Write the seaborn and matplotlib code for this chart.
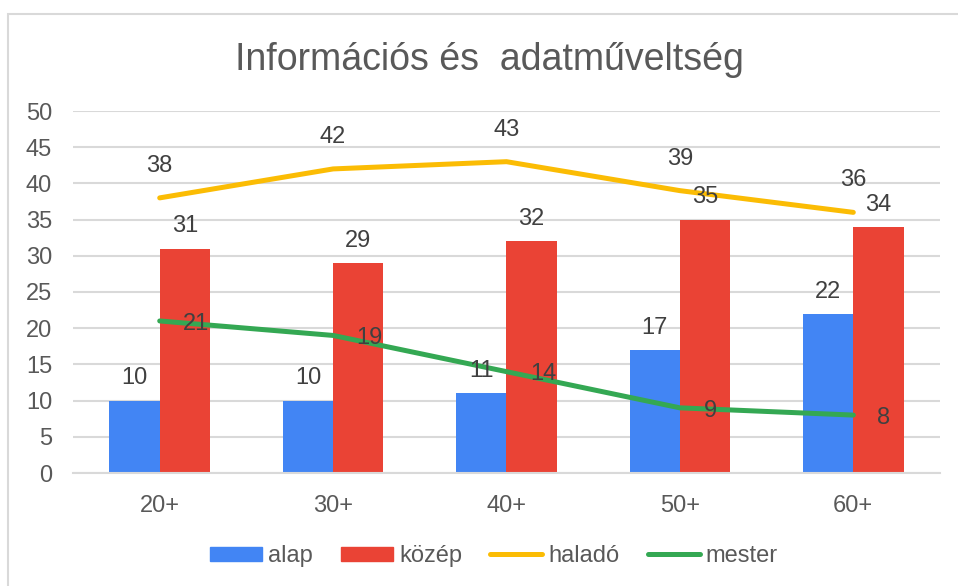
import numpy as np
import pandas as pd
import matplotlib
matplotlib.use("Agg")
import matplotlib.pyplot as plt
import matplotlib.patches as mpatches
from matplotlib.lines import Line2D
import seaborn as sns

# Data
categories = ["20+", "30+", "40+", "50+", "60+"]
alap = [10, 10, 11, 17, 22]
kozep = [31, 29, 32, 35, 34]
halado = [38, 42, 43, 39, 36]
mester = [21, 19, 14, 9, 8]
y_ticks = [0, 5, 10, 15, 20, 25, 30, 35, 40, 45, 50]
title = "Információs és  adatműveltség"

COLORS = {"alap": "#4285F4", "közép": "#EA4335", "haladó": "#FBBC04", "mester": "#34A853"}
TEXT = "#595959"
LABEL = "#404040"
GRID = "#D9D9D9"
FS = 17

sns.set_theme(style="white")
plt.rcParams["font.family"] = ["Liberation Sans", "DejaVu Sans"]

bars = pd.DataFrame({
    "kor": categories * 2,
    "szint": ["alap"] * len(categories) + ["közép"] * len(categories),
    "ertek": alap + kozep,
})

fig = plt.figure(figsize=(9.58, 5.86), dpi=100)
ax = fig.add_axes([73 / 958, 1 - 473 / 586, (940 - 73) / 958, (473 - 111) / 586])

sns.barplot(data=bars, x="kor", y="ertek", hue="szint", order=categories,
            hue_order=["alap", "közép"], palette=COLORS, width=0.58,
            saturation=1, errorbar=None, legend=False, linewidth=0, ax=ax)

for cont in ax.containers:
    ax.bar_label(cont, padding=8, fontsize=FS, color=LABEL)

xpos = np.arange(len(categories))
sns.lineplot(x=xpos, y=halado, color=COLORS["haladó"], linewidth=3.6,
             solid_capstyle="round", ax=ax)
sns.lineplot(x=xpos, y=mester, color=COLORS["mester"], linewidth=3.6,
             solid_capstyle="round", ax=ax)

# line labels: haladó above, mester to the right
for x, v in zip(xpos, halado):
    ax.annotate(str(v), (x, v), xytext=(0, 23), textcoords="offset points",
                ha="center", va="center", fontsize=FS, color=LABEL)
for x, v in zip(xpos, mester):
    ax.annotate(str(v), (x, v), xytext=(17, -2), textcoords="offset points",
                ha="left", va="center", fontsize=FS, color=LABEL)

ax.set_xlim(-0.5, len(categories) - 0.5)
ax.set_ylim(0, 50)
ax.set_yticks(y_ticks)
ax.set_xlabel("")
ax.set_ylabel("")
ax.yaxis.grid(True, color=GRID, linewidth=1.5)
ax.set_axisbelow(True)
for s in ["top", "right", "left"]:
    ax.spines[s].set_visible(False)
ax.spines["bottom"].set_color(GRID)
ax.spines["bottom"].set_linewidth(1.5)
ax.tick_params(axis="x", length=0, pad=16, labelsize=FS, labelcolor=TEXT)
ax.tick_params(axis="y", length=0, pad=15, labelsize=FS, labelcolor=TEXT)

fig.text(489 / 958, 1 - 60 / 586, title, ha="center", va="center",
         fontsize=27, color=TEXT)

handles = [
    mpatches.Patch(color=COLORS["alap"], label="alap"),
    mpatches.Patch(color=COLORS["közép"], label="közép"),
    Line2D([], [], color=COLORS["haladó"], linewidth=3.6, solid_capstyle="round", label="haladó"),
    Line2D([], [], color=COLORS["mester"], linewidth=3.6, solid_capstyle="round", label="mester"),
]
leg = fig.legend(handles=handles, loc="center", bbox_to_anchor=(494 / 958, 1 - 556 / 586),
                 ncol=4, frameon=False, fontsize=FS, handlelength=2.2,
                 handleheight=0.55, handletextpad=0.25, columnspacing=1.2)
for t in leg.get_texts():
    t.set_color(TEXT)

# chart border (only top and left edges visible in the crop)
fig.patches.append(mpatches.Rectangle((8 / 958, -0.1), 2, 1 - 14 / 586 + 0.1,
                                      transform=fig.transFigure, fill=False,
                                      edgecolor=GRID, linewidth=1.5))

fig.savefig("out.png", dpi=100)
